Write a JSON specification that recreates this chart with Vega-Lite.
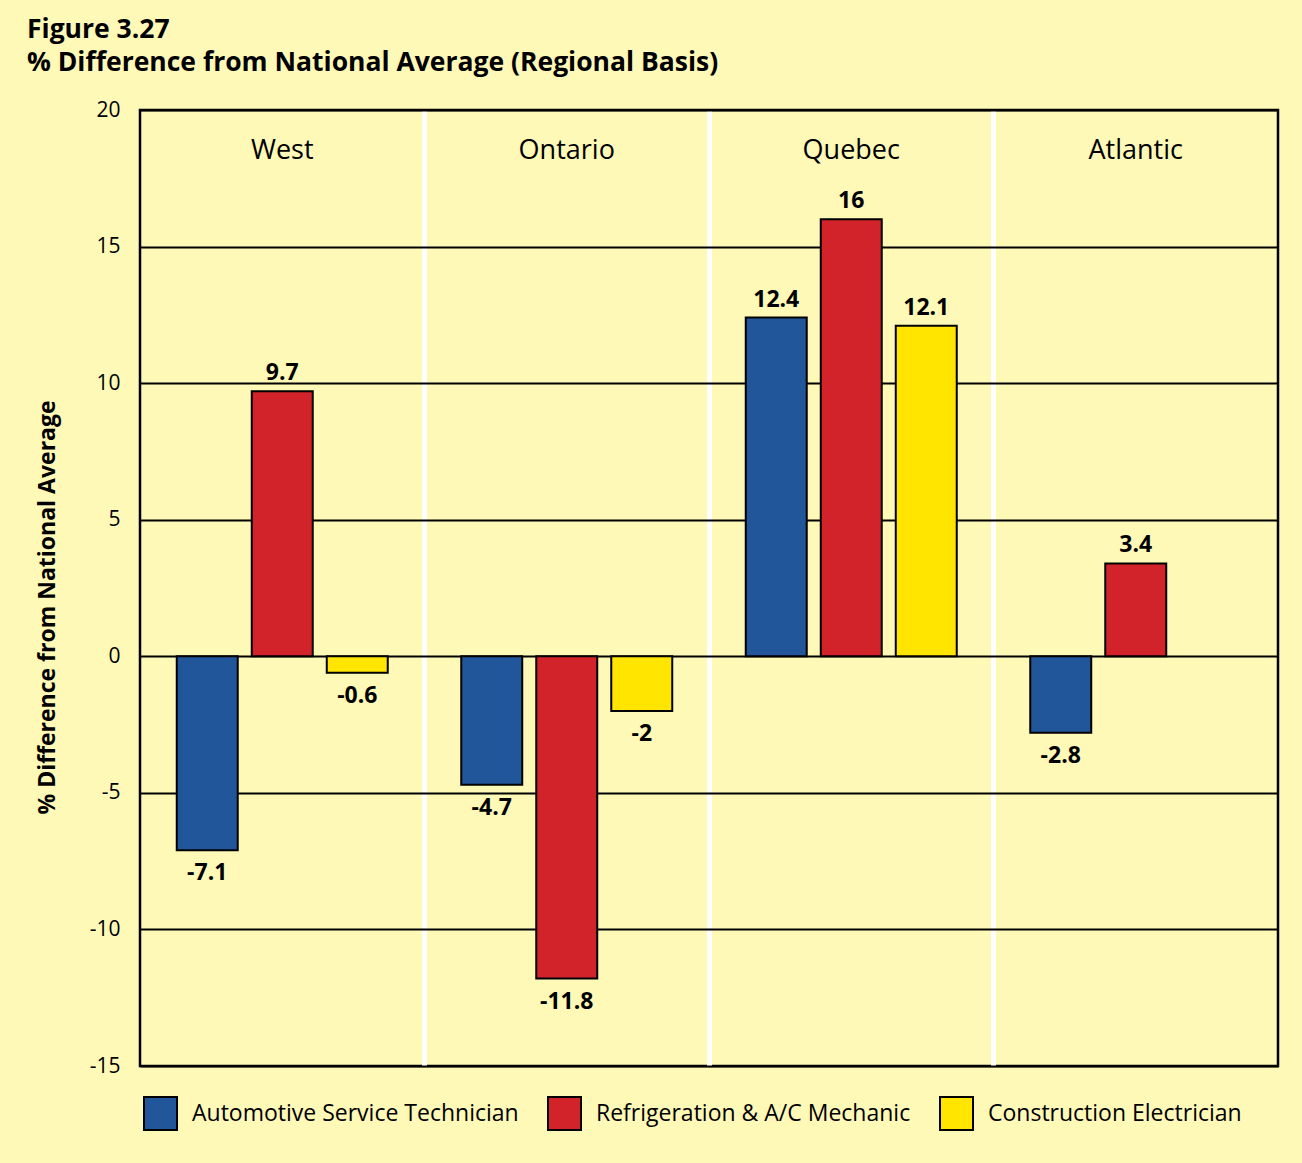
{
  "$schema": "https://vega.github.io/schema/vega-lite/v6.json",
  "width": 1138,
  "height": 956,
  "autosize": "none",
  "padding": {"left": 140, "top": 110, "right": 24, "bottom": 97},
  "background": "#FFF9B8",
  "title": {
    "text": ["Figure 3.27", "% Difference from National Average (Regional Basis)"],
    "anchor": "start",
    "frame": "group",
    "dx": -113,
    "offset": 23,
    "fontSize": 26.5,
    "fontWeight": "bold",
    "color": "black",
    "lineHeight": 33
  },
  "data": {
    "values": [
      {"region": "West", "trade": "Automotive Service Technician", "value": -7.1},
      {"region": "West", "trade": "Refrigeration & A/C Mechanic", "value": 9.7},
      {"region": "West", "trade": "Construction Electrician", "value": -0.6},
      {"region": "Ontario", "trade": "Automotive Service Technician", "value": -4.7},
      {"region": "Ontario", "trade": "Refrigeration & A/C Mechanic", "value": -11.8},
      {"region": "Ontario", "trade": "Construction Electrician", "value": -2},
      {"region": "Quebec", "trade": "Automotive Service Technician", "value": 12.4},
      {"region": "Quebec", "trade": "Refrigeration & A/C Mechanic", "value": 16},
      {"region": "Quebec", "trade": "Construction Electrician", "value": 12.1},
      {"region": "Atlantic", "trade": "Automotive Service Technician", "value": -2.8},
      {"region": "Atlantic", "trade": "Refrigeration & A/C Mechanic", "value": 3.4}
    ]
  },
  "encoding": {
    "x": {
      "field": "region",
      "type": "nominal",
      "sort": ["West", "Ontario", "Quebec", "Atlantic"],
      "scale": {"paddingInner": 0, "paddingOuter": 0},
      "axis": {
        "title": null,
        "labels": false,
        "ticks": false,
        "domain": false,
        "grid": true,
        "gridColor": "white",
        "gridWidth": 5,
        "bandPosition": 0,
        "gridOpacity": {"condition": {"test": "datum.value === 'West'", "value": 0}, "value": 1}
      }
    }
  },
  "layer": [
    {
      "mark": {"type": "bar", "stroke": "black", "strokeWidth": 2},
      "encoding": {
        "xOffset": {
          "field": "trade",
          "type": "nominal",
          "sort": ["Automotive Service Technician", "Refrigeration & A/C Mechanic", "Construction Electrician"],
          "scale": {"paddingInner": 0.187, "paddingOuter": 0.49}
        },
        "y": {
          "field": "value",
          "type": "quantitative",
          "scale": {"domain": [-15, 20], "nice": false, "zero": false},
          "axis": {
            "values": [-15, -10, -5, 0, 5, 10, 15, 20],
            "labelExpr": "datum.value + ''",
            "grid": true,
            "gridColor": "black",
            "gridWidth": 2,
            "gridOpacity": 1,
            "domain": false,
            "ticks": false,
            "labelFontSize": 21,
            "labelColor": "black",
            "labelPadding": 20,
            "title": "% Difference from National Average",
            "titleFontSize": 23,
            "titleFontWeight": "bold",
            "titleColor": "black",
            "titlePadding": 30,
            "titleY": 497
          }
        },
        "color": {
          "field": "trade",
          "type": "nominal",
          "scale": {
            "domain": ["Automotive Service Technician", "Refrigeration & A/C Mechanic", "Construction Electrician"],
            "range": ["#22569B", "#D2232A", "#FFE500"]
          },
          "legend": {
            "title": null,
            "orient": "none",
            "legendX": 3,
            "legendY": 986,
            "direction": "horizontal",
            "columns": 3,
            "columnPadding": 25,
            "symbolType": "square",
            "symbolSize": 1089,
            "symbolStrokeColor": "black",
            "symbolStrokeWidth": 2,
            "symbolOpacity": 1,
            "labelFontSize": 23,
            "labelColor": "black",
            "labelOffset": 14,
            "labelLimit": 500
          }
        }
      }
    },
    {
      "transform": [{"filter": "datum.value > 0"}],
      "mark": {"type": "text", "baseline": "bottom", "dy": -6, "fontSize": 23, "fontWeight": "bold", "color": "black"},
      "encoding": {
        "xOffset": {"field": "trade", "type": "nominal", "sort": ["Automotive Service Technician", "Refrigeration & A/C Mechanic", "Construction Electrician"]},
        "y": {"field": "value", "type": "quantitative"},
        "text": {"field": "value", "type": "nominal"}
      }
    },
    {
      "transform": [{"filter": "datum.value < 0"}],
      "mark": {"type": "text", "baseline": "top", "dy": 12, "fontSize": 23, "fontWeight": "bold", "color": "black"},
      "encoding": {
        "xOffset": {"field": "trade", "type": "nominal", "sort": ["Automotive Service Technician", "Refrigeration & A/C Mechanic", "Construction Electrician"]},
        "y": {"field": "value", "type": "quantitative"},
        "text": {"field": "value", "type": "nominal"}
      }
    },
    {
      "transform": [{"aggregate": [], "groupby": ["region"]}],
      "mark": {"type": "text", "baseline": "middle", "fontSize": 27, "color": "black"},
      "encoding": {
        "y": {"datum": 18.5, "type": "quantitative"},
        "text": {"field": "region", "type": "nominal"}
      }
    }
  ],
  "config": {
    "font": "Open Sans",
    "view": {"stroke": "black", "strokeWidth": 2.5}
  }
}
